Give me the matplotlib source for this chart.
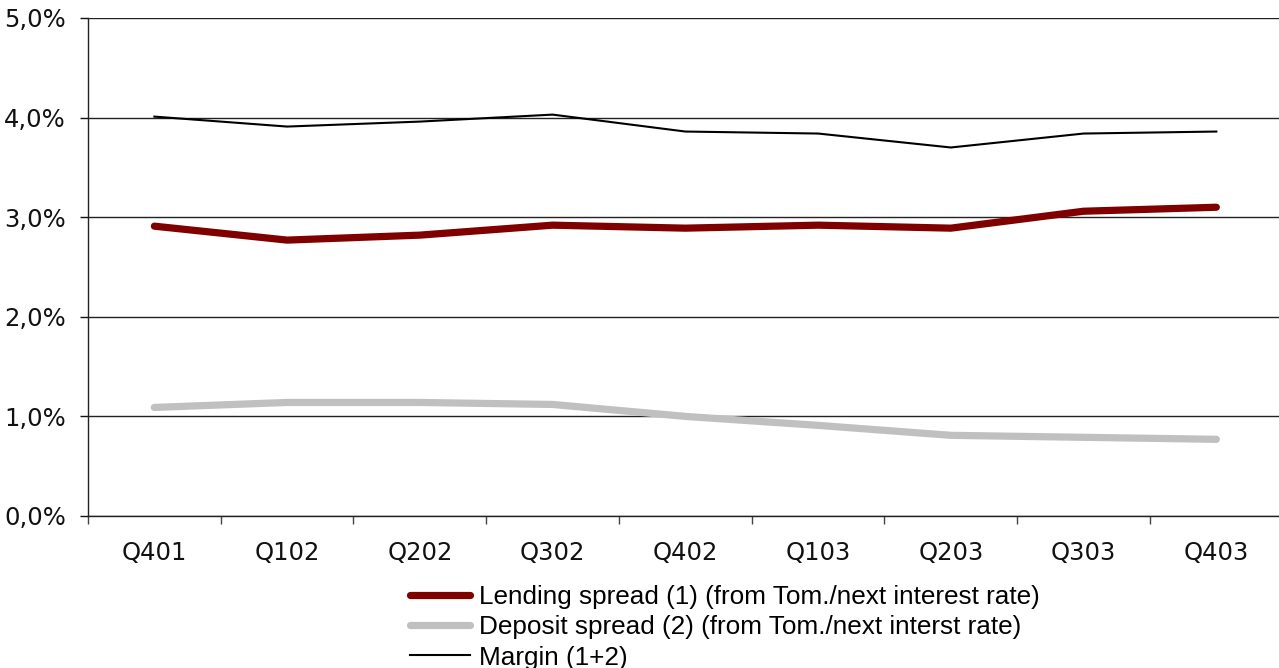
import matplotlib
matplotlib.use("Agg")
import matplotlib.pyplot as plt
from matplotlib.ticker import FuncFormatter

quarters = ["Q401", "Q102", "Q202", "Q302", "Q402", "Q103", "Q203", "Q303", "Q403"]
lending_spread = [2.91, 2.77, 2.82, 2.92, 2.89, 2.92, 2.89, 3.06, 3.10]
deposit_spread = [1.09, 1.14, 1.14, 1.12, 1.00, 0.91, 0.81, 0.79, 0.77]
margin = [4.01, 3.91, 3.96, 4.03, 3.86, 3.84, 3.70, 3.84, 3.86]

legend_labels = [
    "Lending spread (1) (from Tom./next interest rate)",
    "Deposit spread (2) (from Tom./next interst rate)",
    "Margin (1+2)",
]

W, H = 1279, 668
fig = plt.figure(figsize=(W / 100, H / 100), dpi=100)
ax = fig.add_axes([88 / W, (H - 516) / H, 1194.7 / W, 498 / H])

x = range(len(quarters))
l1, = ax.plot(x, lending_spread, color="#800000", lw=5.2, solid_capstyle="round",
              solid_joinstyle="round", zorder=3)
l2, = ax.plot(x, deposit_spread, color="#C0C0C0", lw=5.2, solid_capstyle="round",
              solid_joinstyle="round", zorder=3)
l3, = ax.plot(x, margin, color="black", lw=1.5, zorder=4)

ax.set_xlim(-0.5, len(quarters) - 0.5)
ax.set_ylim(0, 5)
ax.set_yticks([0, 1, 2, 3, 4, 5])
ax.yaxis.set_major_formatter(FuncFormatter(lambda v, p: f"{v:.1f}%".replace(".", ",")))
ax.grid(axis="y", color="#222222", lw=1.0, zorder=1)
ax.set_axisbelow(True)

ax.set_xticks(list(x))
ax.set_xticklabels(quarters, family="DejaVu Sans")
ax.set_xticks([i + 0.5 for i in range(-1, len(quarters))], minor=True)
ax.tick_params(axis="x", which="major", length=0, pad=18, labelsize=17.5, colors="#111111")
ax.tick_params(axis="x", which="minor", length=6, width=1.0, color="#444444", direction="out")
ax.tick_params(axis="y", length=6, width=1.0, pad=10, labelsize=17.5, colors="#111111")

for s in ["top", "right"]:
    ax.spines[s].set_visible(False)
for s in ["left", "bottom"]:
    ax.spines[s].set_color("#222222")
    ax.spines[s].set_linewidth(1.0)

fig.legend([l1, l2, l3], legend_labels, loc="upper left",
           bbox_to_anchor=(410 / W, 1 - 585 / H), frameon=False, borderpad=0,
           borderaxespad=0, handlelength=2.3, handletextpad=0.33, labelspacing=0.24,
           prop={"family": ["Liberation Sans", "DejaVu Sans"], "size": 18.8})

fig.savefig("out.png", dpi=100)
